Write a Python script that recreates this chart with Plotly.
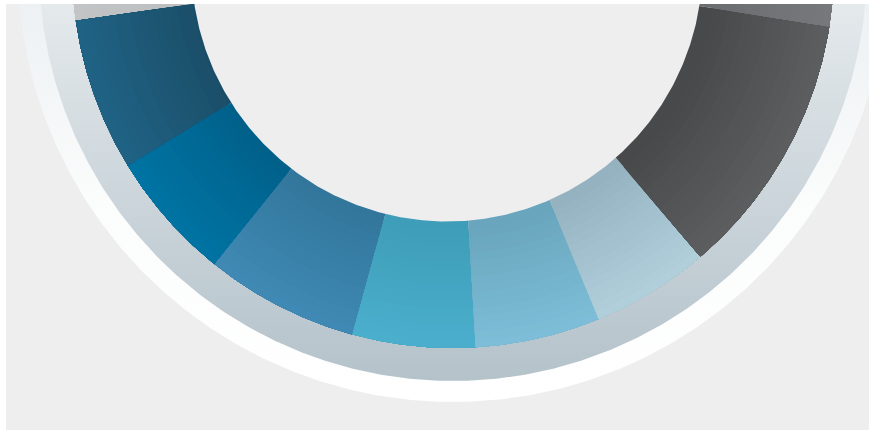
import numpy as np
import plotly.graph_objects as go

# ---- data (slice shares in percent of the full ring) ----
labels = ["Segment A", "Segment B", "Segment C", "Segment D", "Segment E",
          "Segment F", "Segment G", "Segment H", "Segment I"]
values = [27.0, 6.5, 5.5, 6.5, 5.2, 5.3, 5.0, 11.25, 27.75]
inner_colors = ["#bcbdbf", "#1a4d67", "#005f89", "#32759a", "#3e9cb7",
                "#68a5bc", "#94b1bf", "#47484a", "#6c6d71"]
outer_colors = ["#c3c4c6", "#206385", "#0074a3", "#3f8ab5", "#4bafcd",
                "#7ebed8", "#b1d0dc", "#5d5e60", "#77787c"]

# ---- geometry / style constants ----
ROTATION = 90.9          # start angle of first slice (deg, counter-clockwise from +x)
R_HOLE_DRAW = 240        # slices drawn from here (hidden under hole)
R_GRAD0 = 255            # gradient start radius
R_OUT = 381
R_GRAY = 414
R_WHITE = 435
HOLE_C = (-6, 1)
R_HOLE = 255.5
BG = "#eeeeee"
N_BANDS = 16
Y_TOP = -37


def hex2rgb(h):
    h = h.lstrip("#")
    return np.array([int(h[i:i + 2], 16) for i in (0, 2, 4)], dtype=float)


def mix(c0, c1, t):
    c = hex2rgb(c0) * (1 - t) + hex2rgb(c1) * t
    return "rgb(%d,%d,%d)" % tuple(np.round(c).astype(int))


def sector(a0, a1, r0, r1):
    th = np.radians(np.linspace(a0, a1, max(int(abs(a1 - a0) * 3), 4)))
    xs = np.concatenate([r1 * np.cos(th), r0 * np.cos(th[::-1])])
    ys = np.concatenate([r1 * np.sin(th), r0 * np.sin(th[::-1])])
    return np.append(xs, xs[0]), np.append(ys, ys[0])


def disc(cx, cy, r):
    th = np.radians(np.linspace(0, 360, 721))
    return cx + r * np.cos(th), cy + r * np.sin(th)


fig = go.Figure()

# outer white ring
x, y = disc(0, 0, R_WHITE)
fig.add_trace(go.Scatter(x=x, y=y, mode="lines", fill="toself", line=dict(width=0),
                         fillgradient=dict(type="vertical", start=-R_WHITE, stop=Y_TOP,
                                           colorscale=[[0, "#ffffff"], [0.5, "#fbfcfc"], [1, "#edf1f3"]]),
                         hoverinfo="skip"))
# gray ring
x, y = disc(0, 0, R_GRAY)
fig.add_trace(go.Scatter(x=x, y=y, mode="lines", fill="toself", line=dict(width=0),
                         fillgradient=dict(type="vertical", start=-R_GRAY, stop=Y_TOP,
                                           colorscale=[[0, "#b4c2ca"], [1, "#e4e9ec"]]),
                         hoverinfo="skip"))

# slices
angles = ROTATION + 3.6 * np.concatenate([[0], np.cumsum(values)])
for i, lab in enumerate(labels):
    a0, a1 = angles[i], angles[i + 1]
    for k in range(N_BANDS):
        r0 = R_HOLE_DRAW if k == 0 else R_GRAD0 + (R_OUT - R_GRAD0) * k / N_BANDS
        t = (k + 0.5) / N_BANDS
        x, y = sector(a0, a1, r0, R_OUT)
        fig.add_trace(go.Scatter(x=x, y=y, mode="lines", fill="toself",
                                 fillcolor=mix(inner_colors[i], outer_colors[i], t),
                                 line=dict(width=0), name=lab, hoverinfo="name"))

# hole
x, y = disc(HOLE_C[0], HOLE_C[1], R_HOLE)
fig.add_trace(go.Scatter(x=x, y=y, mode="lines", fill="toself", fillcolor=BG,
                         line=dict(width=0), hoverinfo="skip"))

fig.update_layout(
    width=869, height=430,
    margin=dict(l=6, r=0, t=4, b=0),
    paper_bgcolor="#ffffff", plot_bgcolor=BG,
    showlegend=False,
    xaxis=dict(range=[-447, 416], visible=False, fixedrange=True),
    yaxis=dict(range=[-463, Y_TOP], visible=False, fixedrange=True),
)
fig.write_html("out.html", config={"displayModeBar": False},
               post_script="document.body.style.margin='0';document.body.style.overflow='hidden';")
